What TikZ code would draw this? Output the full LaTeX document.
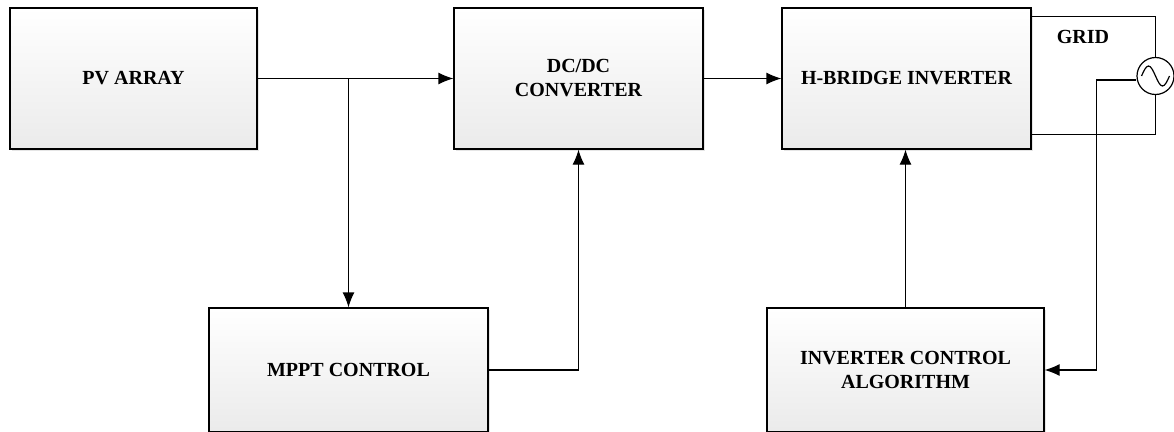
\documentclass[tikz,border=0pt]{standalone}
\usepackage{fontspec}
\setmainfont{Liberation Serif}
\usepackage{tikz}
\usetikzlibrary{arrows.meta, positioning, shadows}

\begin{document}
\begin{tikzpicture}[x=1pt, y=-1pt,
        block/.style={draw, rectangle, line width=1.2pt, inner sep=0pt, align=center,
            font=\bfseries\fontsize{20}{24}\selectfont,
            top color=white, bottom color=black!8,
            drop shadow={shadow xshift=2pt, shadow yshift=-2pt, fill=black!20}},
        wire/.style={line width=1.2pt},
        arr/.style={wire, -{Latex[length=15pt, width=12pt]}}]
        \clip (0,0) rectangle (1174,431);
        \useasboundingbox (0,0) rectangle (1174,431);

        % Blocks of the power path and the control loops
        \node[block, minimum width=247pt, minimum height=141pt] (pv) at (133.5,78.5) {PV ARRAY};
        \node[block, minimum width=249pt, minimum height=141pt] (dcdc) at (578.5,78.5) {DC/DC\\CONVERTER};
        \node[block, minimum width=249pt, minimum height=141pt] (hb) at (906.5,78.5) {H-BRIDGE INVERTER};
        \node[block, minimum width=279pt, minimum height=124pt] (mppt) at (348.5,370) {MPPT CONTROL};
        \node[block, minimum width=277pt, minimum height=124pt] (inv) at (905.5,370) {INVERTER CONTROL\\ALGORITHM};

        % AC source for the grid
        \node[circle, draw, line width=1.2pt, minimum size=37pt, inner sep=0pt] (ac) at (1155.5,76) {};
        \node[font=\bfseries\fontsize{20}{24}\selectfont] (grid) at (1083,37) {GRID};
        \draw[wire] (ac.center) ++(-14,0) sin ++(7,-10) cos ++(7,10) sin ++(7,10) cos ++(7,-10);

        \coordinate (tap) at (348.5,78.5);
        \draw[arr] (pv) -- (dcdc);
        \draw[arr] (tap) -- (tap |- mppt.north);
        \draw[arr] (mppt.east) -| (dcdc.south);
        \draw[arr] (dcdc) -- (hb);
        \draw[arr] (inv.north) -- (inv.north |- hb.south);
        \draw[wire] (hb.north east) ++(0,9) -| (ac.north);
        \draw[wire] (hb.south east) ++(0,-15) -| (ac.south);
        \draw[arr] (ac.west) ++(0,4) -- ++(-40,0) |- (inv.east);
    \end{tikzpicture}
\end{document}
